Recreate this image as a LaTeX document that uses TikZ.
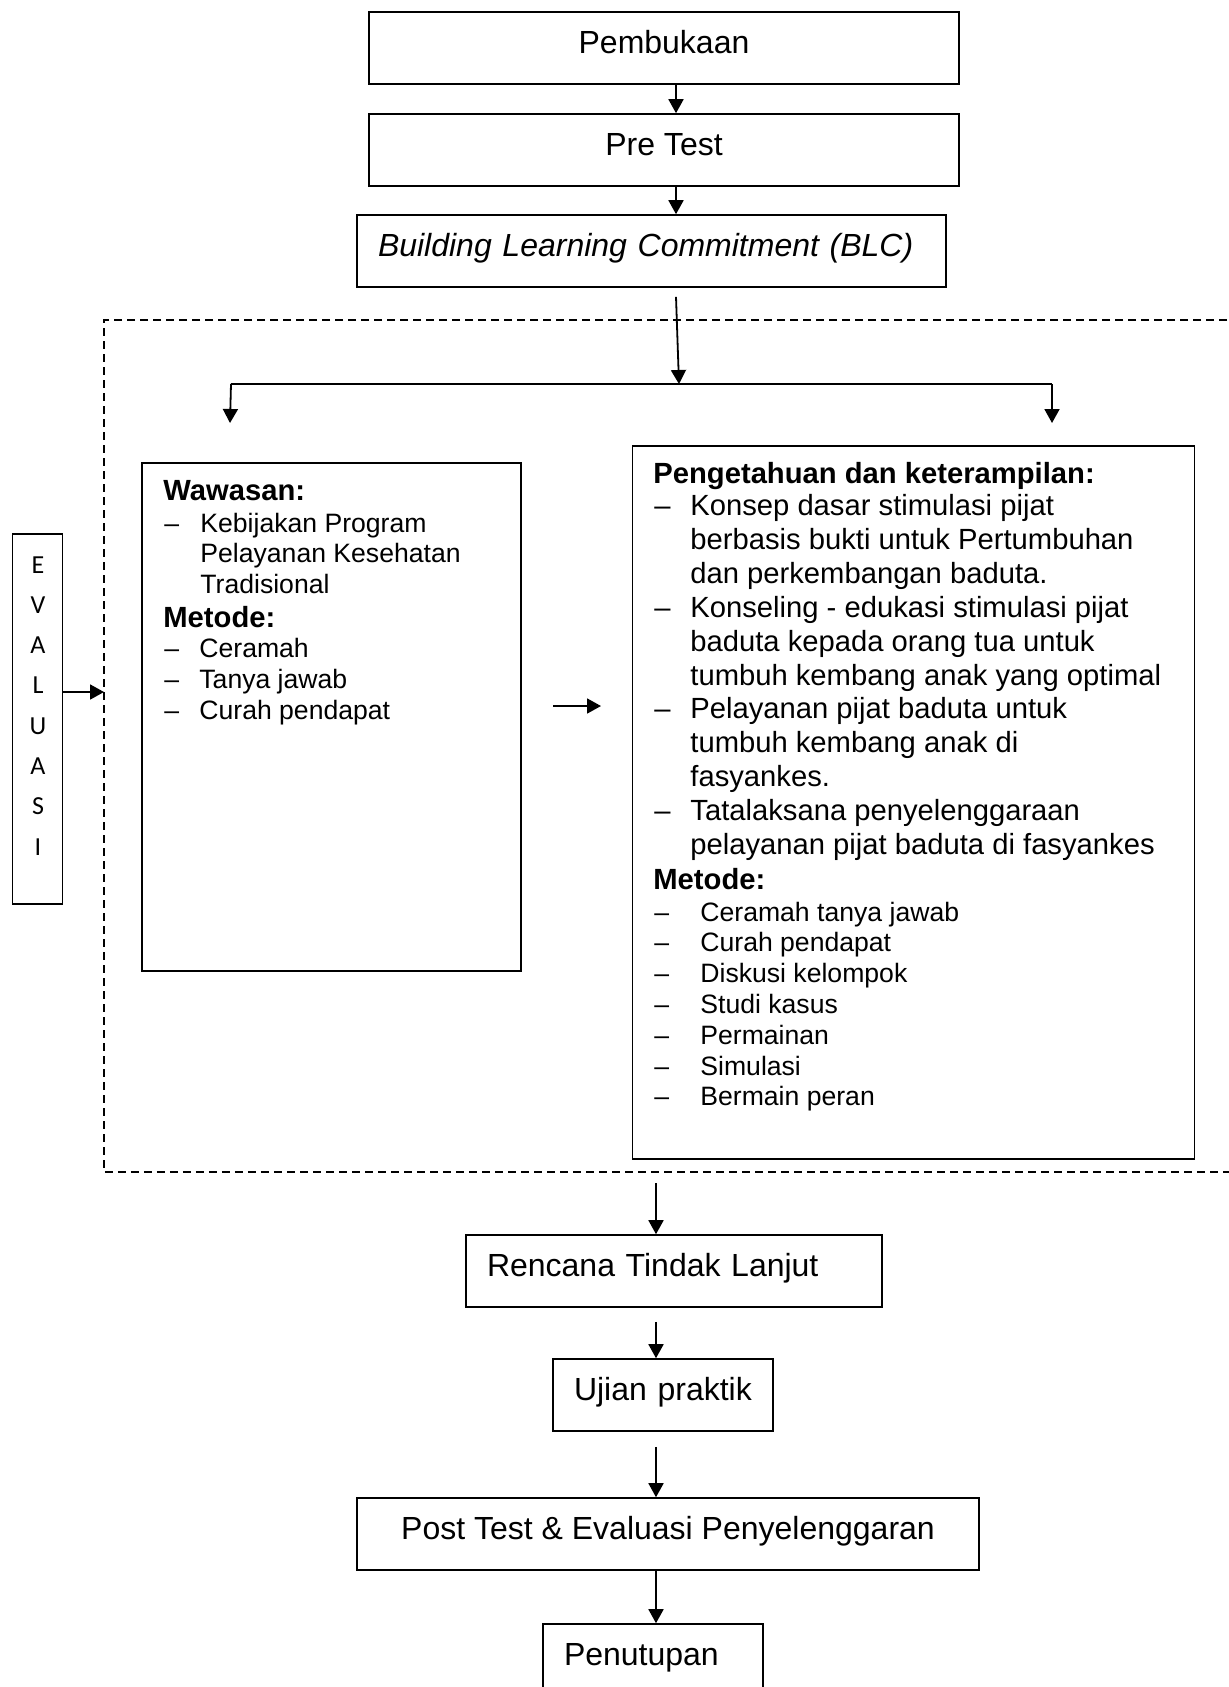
\documentclass[tikz,border=0pt]{standalone}
\usepackage{fontspec}
\setmainfont{Liberation Sans}
\newfontfamily\evalfont{Carlito}
\usetikzlibrary{arrows.meta,calc}

\begin{document}
\begin{tikzpicture}[x=0.5pt, y=-0.5pt]
    \tikzset{
        box/.style={draw, line width=0.8pt, inner xsep=0pt, inner ysep=0pt,
            text height=20.5pt, text depth=15.5pt, anchor=base,
            font=\fontsize{16}{19}\selectfont},
        lbox/.style={box, align=left, inner xsep=10.5pt},
        frame/.style={draw, line width=0.8pt, inner sep=0pt, anchor=north west},
        arr/.style={-{Triangle[length=7pt,width=7.5pt]}, line width=0.9pt},
        hdr/.style={anchor=base west, inner sep=0pt, font=\bfseries\fontsize{14.6}{17}\selectfont},
        itm/.style={anchor=base west, inner sep=0pt, font=\fontsize{14.6}{17}\selectfont},
        sitm/.style={anchor=base west, inner sep=0pt, font=\fontsize{13.3}{15.5}\selectfont},
        evl/.style={anchor=base, inner sep=0pt, font=\evalfont\fontsize{13}{15}\selectfont}
    }
    \useasboundingbox (0,0) rectangle (1228,1687);

    \coordinate (Spine) at (676, 0);
    \coordinate (Low) at (656, 0);

    % boxes of the main flow
    \node[box, minimum width=295pt] (Open) at (664, 53) {Pembukaan};
    \node[box, minimum width=295pt] (Pre) at (664, 155) {Pre Test};
    \node[lbox, text width=273.5pt] (BLC) at (651.5, 256) {\itshape Building Learning Commitment (BLC)};
    \node[lbox, text width=187pt] (RTL) at (674, 1276) {Rencana Tindak Lanjut};
    \node[lbox, text width=89pt] (Ujian) at (663, 1400) {Ujian praktik};
    \node[box, minimum width=311pt] (Post) at (668, 1539) {Post Test \& Evaluasi Penyelenggaran};
    \node[lbox, text width=89pt] (Tutup) at (653, 1665) {Penutupan};

    % dashed block
    \draw[line width=0.7pt, dash pattern=on 4pt off 2.5pt]
        (1240, 320) -- (104, 320) -- (104, 1172) -- (1240, 1172);

    \node[frame, minimum width=189.5pt, minimum height=254pt] (Wawasan) at (141, 462) {};
    \node[frame, minimum width=281pt, minimum height=356.5pt] (Ilmu) at (631.5, 445) {};
    \node[frame, minimum width=25pt, minimum height=185pt] (Eval) at (11.5, 533) {};

    \foreach \c [count=\i from 0] in {E,V,A,L,U,A,S,I}
        \node[evl] (Ev\i) at (38, 573+40.3*\i) {\c};

    % left box text
    \node[hdr] (WawH) at (163, 500) {Wawasan:};
    \foreach \t [count=\i from 0] in {Kebijakan Program, Pelayanan Kesehatan, Tradisional}
        \node[sitm] (Wa\i) at (200, 532+30.5*\i) {\t};
    \node[sitm] (WaD) at (164, 532) {--};
    \node[hdr] (MetL) at (163, 627) {Metode:};
    \foreach \t [count=\i from 0] in {Ceramah, Tanya jawab, Curah pendapat} {
        \node[sitm] (Ml\i) at (199, 657+31*\i) {\t};
        \node[sitm] (MlD\i) at (164, 657+31*\i) {--};
    }

    % right box text
    \node[hdr] (IlmuH) at (653, 483) {Pengetahuan dan keterampilan:};
    \foreach \t [count=\i from 0] in {Konsep dasar stimulasi pijat,
            berbasis bukti untuk Pertumbuhan, dan perkembangan baduta.,
            Konseling - edukasi stimulasi pijat, baduta kepada orang tua untuk,
            tumbuh kembang anak yang optimal, Pelayanan pijat baduta untuk,
            tumbuh kembang anak di, fasyankes., Tatalaksana penyelenggaraan,
            pelayanan pijat baduta di fasyankes}
        \node[itm] (K\i) at (690, 515.5+33.9*\i) {\t};
    \foreach \i in {0,3,6,9}
        \node[itm] (KD\i) at (654, 515.5+33.9*\i) {--};
    \node[hdr] (MetR) at (653, 889) {Metode:};
    \foreach \t [count=\i from 0] in {Ceramah tanya jawab, Curah pendapat,
            Diskusi kelompok, Studi kasus, Permainan, Simulasi, Bermain peran} {
        \node[sitm] (Mr\i) at (700, 921+30.8*\i) {\t};
        \node[sitm] (MrD\i) at (654, 921+30.8*\i) {--};
    }

    % connectors
    \coordinate (Split) at (679, 384);
    \coordinate (SplitL) at (231, 384);
    \coordinate (SplitR) at (1052, 384);
    \coordinate (InL) at (230, 423);
    \coordinate (InR) at (1052, 423);
    \coordinate (MidA) at (553, 706);
    \coordinate (MidB) at (601, 706);
    \coordinate (DashL) at (104, 692);
    \coordinate (OutB) at (656, 1183);

    \draw[arr] (Open.south -| Spine) -- (Pre.north -| Spine);
    \draw[arr] (Pre.south -| Spine) -- (BLC.north -| Spine);
    \draw[arr] ($(BLC.south -| Spine)+(0,9)$) -- (Split);
    \draw[line width=0.9pt] (SplitL) -- (SplitR);
    \draw[arr] (SplitL) -- (InL);
    \draw[arr] (SplitR) -- (InR);
    \draw[arr] (MidA) -- (MidB);
    \draw[arr] (Eval.east |- DashL) -- (DashL);
    \draw[arr] (OutB) -- (RTL.north -| Low);
    \draw[arr] ($(RTL.south -| Low)+(0,14)$) -- (Ujian.north -| Low);
    \draw[arr] ($(Ujian.south -| Low)+(0,15)$) -- (Post.north -| Low);
    \draw[arr] (Post.south -| Low) -- (Tutup.north -| Low);
\end{tikzpicture}
\end{document}
